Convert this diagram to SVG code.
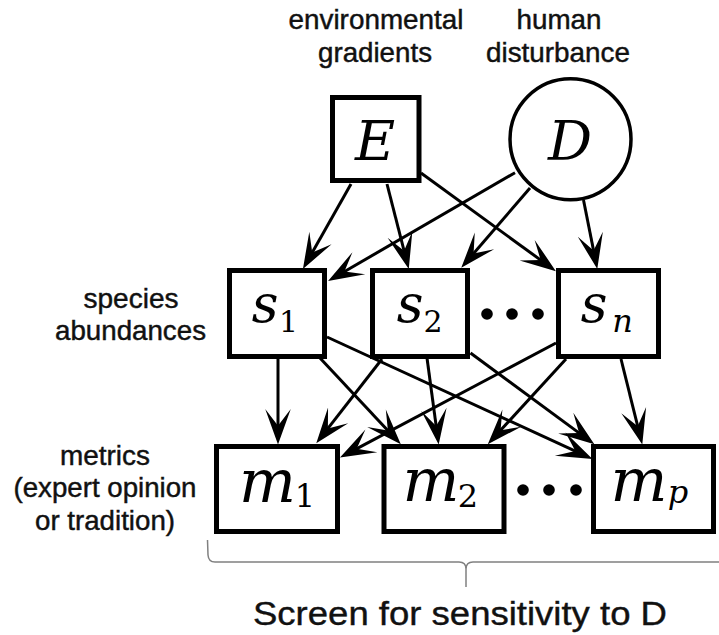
<svg xmlns="http://www.w3.org/2000/svg" width="719" height="635" viewBox="0 0 719 635">
<style>
.lbl{font-family:"Liberation Sans",Arial,sans-serif;font-size:27.5px;fill:#111;stroke:#111;stroke-width:0.45px;text-anchor:middle}
.big{font-family:"Liberation Sans",Arial,sans-serif;font-size:33px;fill:#111;stroke:#111;stroke-width:0.4px;text-anchor:middle}
.box{fill:#fff;stroke:#000;stroke-width:5}
.circ{fill:#fff;stroke:#000;stroke-width:3.5}
.mi{font-family:"DejaVu Serif","Liberation Serif",serif;font-style:italic;fill:#000;text-anchor:middle}
.mr{font-family:"DejaVu Serif","Liberation Serif",serif;fill:#000;text-anchor:middle}
.edge{fill:none;stroke:#000;stroke-width:3;marker-end:url(#ah)}
.dot{fill:#000}
.brace{fill:none;stroke:#808080;stroke-width:1.5}
</style>
<defs>
<marker id="ah" markerUnits="userSpaceOnUse" markerWidth="40" markerHeight="30" viewBox="-24 -13 36 26" refX="0" refY="0" orient="auto" overflow="visible">
<path d="M10,0 L-22,-11.5 L-7,0 L-22,11.5 Z" fill="#000"/>
</marker>
</defs>
<rect width="719" height="635" fill="#fff"/>

<g id="labels">
<text class="lbl" x="376" y="29" textLength="175" lengthAdjust="spacingAndGlyphs">environmental</text>
<text class="lbl" x="375" y="62" textLength="114" lengthAdjust="spacingAndGlyphs">gradients</text>
<text class="lbl" x="559" y="29" textLength="85" lengthAdjust="spacingAndGlyphs">human</text>
<text class="lbl" x="558" y="62" textLength="144" lengthAdjust="spacingAndGlyphs">disturbance</text>
<text class="lbl" x="131" y="308" textLength="95" lengthAdjust="spacingAndGlyphs">species</text>
<text class="lbl" x="130.5" y="340" textLength="151" lengthAdjust="spacingAndGlyphs">abundances</text>
<text class="lbl" x="105" y="465" textLength="90" lengthAdjust="spacingAndGlyphs">metrics</text>
<text class="lbl" x="105" y="497" textLength="183" lengthAdjust="spacingAndGlyphs">(expert opinion</text>
<text class="lbl" x="105" y="530" textLength="140" lengthAdjust="spacingAndGlyphs">or tradition)</text>
</g>

<g id="connectors">
<path class="edge" d="M351,184 L308.4,259.3"/>
<path class="edge" d="M387,184 L406,258.3"/>
<path class="edge" d="M421,173 L546.9,264.6"/>
<path class="edge" d="M515,172.7 L337.7,275.5"/>
<path class="edge" d="M530,188 L468.5,259.4"/>
<path class="edge" d="M583.5,200 L595.1,258.2"/>
<path class="edge" d="M278,359 L278,433.5"/>
<path class="edge" d="M320,358 L393.2,436.2"/>
<path class="edge" d="M327,337 L582.4,454.3"/>
<path class="edge" d="M382,359 L323.1,434.6"/>
<path class="edge" d="M427,358 L437.2,433.6"/>
<path class="edge" d="M470.5,353 L585.4,437.6"/>
<path class="edge" d="M556,343 L349.8,452.3"/>
<path class="edge" d="M566,359 L495.3,436.1"/>
<path class="edge" d="M621,359 L639.6,433.8"/>
</g>

<g id="node-E">
<rect class="box" x="332.5" y="97.5" width="86.5" height="83"/>
<text class="mi" x="375" y="160" font-size="55">E</text>
</g>
<g id="node-D">
<circle class="circ" cx="570.5" cy="139.3" r="60.5"/>
<text class="mi" x="570" y="160" font-size="55">D</text>
</g>

<g id="node-s1">
<rect class="box" x="229.5" y="270.5" width="95" height="86"/>
<text class="mi" x="265" y="322" font-size="52">s</text>
<text class="mr" x="288.5" y="332" font-size="30">1</text>
</g>
<g id="node-s2">
<rect class="box" x="372.5" y="270.5" width="95" height="86"/>
<text class="mi" x="410" y="322" font-size="52">s</text>
<text class="mr" x="433" y="332" font-size="30">2</text>
</g>
<g id="node-sn">
<rect class="box" x="558.5" y="270.5" width="100" height="86"/>
<text class="mi" x="594" y="322" font-size="52">s</text>
<text class="mi" x="622.5" y="332" font-size="32">n</text>
</g>
<g id="dots-s">
<circle class="dot" cx="487" cy="314" r="5.8"/>
<circle class="dot" cx="512" cy="314" r="5.8"/>
<circle class="dot" cx="538" cy="314" r="5.8"/>
</g>

<g id="node-m1">
<rect class="box" x="216.5" y="446.5" width="121" height="85"/>
<text class="mi" x="267.5" y="502" font-size="60">m</text>
<text class="mr" x="305" y="507" font-size="32">1</text>
</g>
<g id="node-m2">
<rect class="box" x="384" y="446.5" width="120" height="85"/>
<text class="mi" x="431" y="501" font-size="60">m</text>
<text class="mr" x="468" y="507" font-size="32">2</text>
</g>
<g id="node-mp">
<rect class="box" x="593.5" y="446.5" width="120" height="85"/>
<text class="mi" x="639" y="501" font-size="60">m</text>
<text class="mi" x="678" y="503" font-size="32">p</text>
</g>
<g id="dots-m">
<circle class="dot" cx="523" cy="490" r="5.8"/>
<circle class="dot" cx="549" cy="490" r="5.8"/>
<circle class="dot" cx="576" cy="490" r="5.8"/>
</g>

<g id="brace">
<path class="brace" d="M207.5,540 L208,555 Q208.5,562 215,562 L459,562 Q466,562 466,569 L466,587 M466,569 Q466,562 473,562 L725,562"/>
<text class="big" x="460" y="625" textLength="414" lengthAdjust="spacingAndGlyphs">Screen for sensitivity to D</text>
</g>
</svg>
